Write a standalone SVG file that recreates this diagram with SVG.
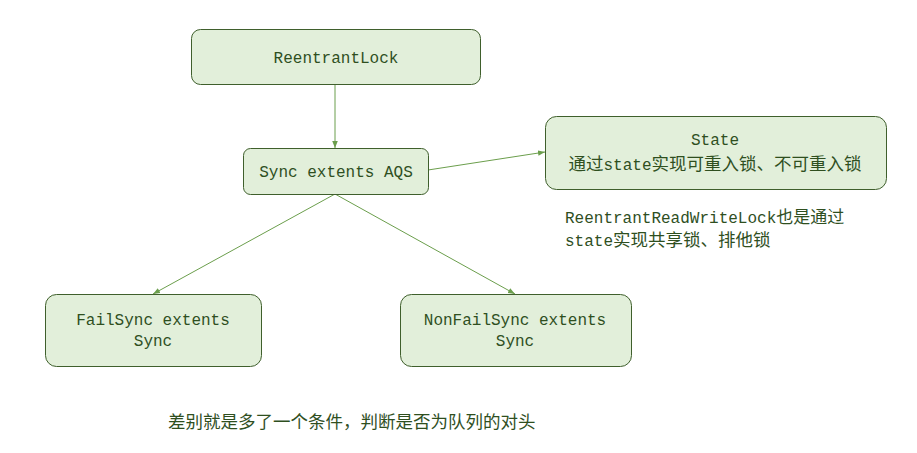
<svg xmlns="http://www.w3.org/2000/svg" width="917" height="453" viewBox="0 0 917 453">
<defs>
<style>
.box{fill:#e2efda;stroke:#3f5f2c;stroke-width:1}
.t{font-family:"Liberation Mono","Noto Sans CJK SC",monospace;font-size:16px;fill:#2f4f1f;text-anchor:middle}
.n{font-family:"Liberation Mono","Noto Sans CJK SC",monospace;font-size:16px;fill:#2f4f1f}
.k{font-family:"Noto Sans CJK SC",sans-serif;font-size:17.5px}
.c{fill:none;stroke:#6b9e4c;stroke-width:1}
</style>
<marker id="ah" viewBox="0 0 10 10" refX="10" refY="5" markerWidth="7" markerHeight="7" orient="auto" markerUnits="userSpaceOnUse">
<path d="M0,1 L10,5 L0,9 Z" fill="#6b9e4c"/>
</marker>
</defs>
<rect width="917" height="453" fill="#ffffff"/>
<g id="connectors">
<line class="c" x1="335" y1="84" x2="335" y2="148" marker-end="url(#ah)"/>
<line class="c" x1="428" y1="170" x2="545" y2="152" marker-end="url(#ah)"/>
<line class="c" x1="335" y1="194" x2="153" y2="294" marker-end="url(#ah)"/>
<line class="c" x1="335" y1="194" x2="515" y2="294" marker-end="url(#ah)"/>
</g>
<g id="reentrantlock">
<rect class="box" x="191.5" y="29.5" width="289" height="55" rx="9"/>
<text class="t" x="336" y="63">ReentrantLock</text>
</g>
<g id="sync">
<rect class="box" x="243.5" y="148.5" width="185" height="46" rx="7"/>
<text class="t" x="336" y="177">Sync extents AQS</text>
</g>
<g id="state">
<rect class="box" x="545.5" y="116.5" width="341" height="73" rx="11"/>
<text class="t" x="715" y="145">State</text>
<text class="t" x="715" y="170"><tspan class="k">通过</tspan>state<tspan class="k">实现可重入锁、不可重入锁</tspan></text>
</g>
<g id="failsync">
<rect class="box" x="45.5" y="294.5" width="216" height="72" rx="11"/>
<text class="t" x="153" y="325">FailSync extents</text>
<text class="t" x="153" y="346">Sync</text>
</g>
<g id="nonfailsync">
<rect class="box" x="400.5" y="294.5" width="231" height="72" rx="11"/>
<text class="t" x="515" y="325">NonFailSync extents</text>
<text class="t" x="515" y="346">Sync</text>
</g>
<g id="notes">
<text class="n" x="565" y="223">ReentrantReadWriteLock<tspan class="k" style="font-size:17px">也是通过</tspan></text>
<text class="n" x="565" y="246">state<tspan class="k">实现共享锁、排他锁</tspan></text>
<text class="n k" x="168" y="428">差别就是多了一个条件，判断是否为队列的对头</text>
</g>
</svg>
